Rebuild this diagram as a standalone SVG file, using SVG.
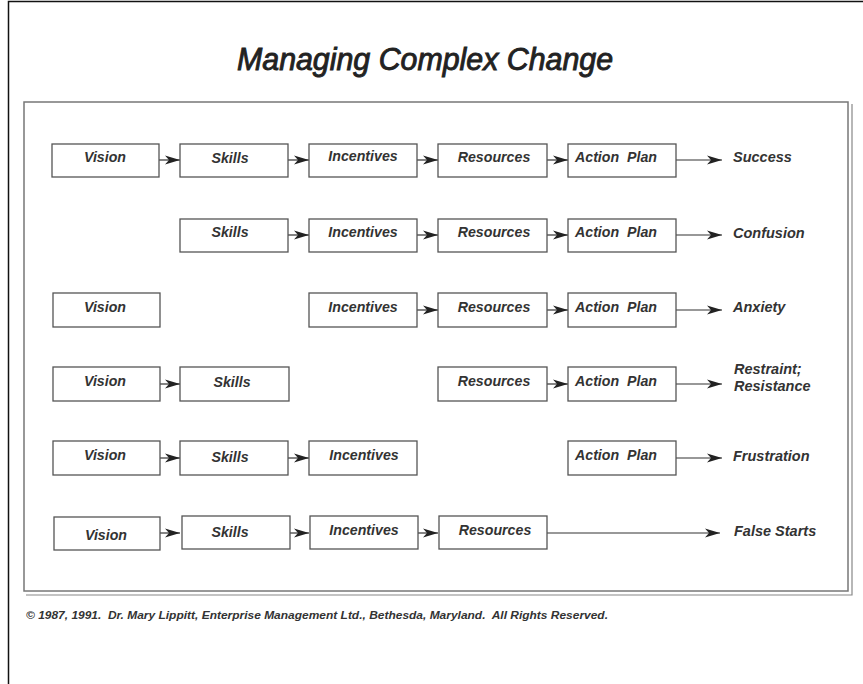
<svg xmlns="http://www.w3.org/2000/svg" width="863" height="684" viewBox="0 0 863 684">
<style>
.box{fill:#fff;stroke:#555;stroke-width:1.3}
.lbl{font-family:"Liberation Sans",Arial,sans-serif;font-style:italic;font-weight:bold;font-size:14.2px;fill:#333;text-anchor:middle}
.out{font-family:"Liberation Sans",Arial,sans-serif;font-style:italic;font-weight:bold;font-size:14.5px;fill:#333}
.con{stroke:#333;stroke-width:1.2;fill:none;marker-end:url(#ah)}
.frame{fill:none;stroke:#777;stroke-width:1.5}
</style>
<defs>
<marker id="ah" markerUnits="userSpaceOnUse" markerWidth="17" markerHeight="11" refX="15" refY="5.5" orient="auto">
<path d="M0,1 L15,5.5 L0,10 L4,5.5 Z" fill="#222"/>
</marker>
</defs>
<rect width="863" height="684" fill="#fff"/>
<path d="M8.5,684 V1.5 H863" fill="none" stroke="#111" stroke-width="1.5"/>
<text x="425" y="70" font-family="'Liberation Sans',Arial,sans-serif" font-style="italic" font-size="31" fill="#222" stroke="#222" stroke-width="0.9" text-anchor="middle" textLength="376" lengthAdjust="spacingAndGlyphs">Managing Complex Change</text>
<g id="frame">
<rect class="frame" x="24" y="102" width="824" height="489"/>
<path d="M26,595 H852 V104" fill="none" stroke="#888" stroke-width="1.2"/>
</g>
<g id="connectors">
<line class="con" x1="159" y1="160" x2="180" y2="160"/>
<line class="con" x1="288" y1="160" x2="309" y2="160"/>
<line class="con" x1="417" y1="160" x2="438" y2="160"/>
<line class="con" x1="547" y1="160" x2="568" y2="160"/>
<line class="con" x1="676" y1="160" x2="722" y2="160"/>
<line class="con" x1="288" y1="235" x2="309" y2="235"/>
<line class="con" x1="417" y1="235" x2="438" y2="235"/>
<line class="con" x1="547" y1="235" x2="568" y2="235"/>
<line class="con" x1="676" y1="235" x2="722" y2="235"/>
<line class="con" x1="417" y1="310" x2="438" y2="310"/>
<line class="con" x1="547" y1="310" x2="568" y2="310"/>
<line class="con" x1="676" y1="310" x2="722" y2="310"/>
<line class="con" x1="159" y1="384" x2="180" y2="384"/>
<line class="con" x1="547" y1="384" x2="568" y2="384"/>
<line class="con" x1="676" y1="384" x2="722" y2="384"/>
<line class="con" x1="159" y1="458" x2="180" y2="458"/>
<line class="con" x1="288" y1="458" x2="309" y2="458"/>
<line class="con" x1="676" y1="458" x2="722" y2="458"/>
<line class="con" x1="159" y1="533" x2="180" y2="533"/>
<line class="con" x1="288" y1="533" x2="309" y2="533"/>
<line class="con" x1="417" y1="533" x2="438" y2="533"/>
<line class="con" x1="547" y1="533" x2="720" y2="533"/>
</g>
<!-- Row 1 -->
<g id="r1-vision"><rect class="box" x="52" y="144" width="107" height="33"/><text class="lbl" x="105" y="162">Vision</text></g>
<g id="r1-skills"><rect class="box" x="180" y="144" width="108" height="33"/><text class="lbl" x="230" y="163">Skills</text></g>
<g id="r1-incentives"><rect class="box" x="309" y="144" width="108" height="33"/><text class="lbl" x="363" y="161">Incentives</text></g>
<g id="r1-resources"><rect class="box" x="438" y="144" width="109" height="33"/><text class="lbl" x="494" y="162">Resources</text></g>
<g id="r1-action"><rect class="box" x="568" y="144" width="108" height="33"/><text class="lbl" x="616" y="162" xml:space="preserve">Action  Plan</text></g>
<g id="r1-out"><text class="out" x="733" y="162">Success</text></g>
<!-- Row 2 -->
<g id="r2-skills"><rect class="box" x="180" y="219" width="108" height="33"/><text class="lbl" x="230" y="237">Skills</text></g>
<g id="r2-incentives"><rect class="box" x="309" y="219" width="108" height="33"/><text class="lbl" x="363" y="237">Incentives</text></g>
<g id="r2-resources"><rect class="box" x="438" y="219" width="109" height="33"/><text class="lbl" x="494" y="237">Resources</text></g>
<g id="r2-action"><rect class="box" x="568" y="219" width="108" height="33"/><text class="lbl" x="616" y="237" xml:space="preserve">Action  Plan</text></g>
<g id="r2-out"><text class="out" x="733" y="238">Confusion</text></g>
<!-- Row 3 -->
<g id="r3-vision"><rect class="box" x="53" y="293" width="107" height="34"/><text class="lbl" x="105" y="312">Vision</text></g>
<g id="r3-incentives"><rect class="box" x="309" y="293" width="108" height="34"/><text class="lbl" x="363" y="312">Incentives</text></g>
<g id="r3-resources"><rect class="box" x="438" y="293" width="109" height="34"/><text class="lbl" x="494" y="312">Resources</text></g>
<g id="r3-action"><rect class="box" x="568" y="293" width="108" height="34"/><text class="lbl" x="616" y="312" xml:space="preserve">Action  Plan</text></g>
<g id="r3-out"><text class="out" x="733" y="312">Anxiety</text></g>
<!-- Row 4 -->
<g id="r4-vision"><rect class="box" x="53" y="367" width="107" height="34"/><text class="lbl" x="105" y="386">Vision</text></g>
<g id="r4-skills"><rect class="box" x="180" y="367" width="109" height="34"/><text class="lbl" x="232" y="387">Skills</text></g>
<g id="r4-resources"><rect class="box" x="438" y="367" width="109" height="34"/><text class="lbl" x="494" y="386">Resources</text></g>
<g id="r4-action"><rect class="box" x="568" y="367" width="108" height="34"/><text class="lbl" x="616" y="386" xml:space="preserve">Action  Plan</text></g>
<g id="r4-out"><text class="out" x="734" y="374">Restraint;</text><text class="out" x="734" y="391">Resistance</text></g>
<!-- Row 5 -->
<g id="r5-vision"><rect class="box" x="53" y="441" width="107" height="34"/><text class="lbl" x="105" y="460">Vision</text></g>
<g id="r5-skills"><rect class="box" x="180" y="441" width="108" height="34"/><text class="lbl" x="230" y="462">Skills</text></g>
<g id="r5-incentives"><rect class="box" x="309" y="441" width="108" height="34"/><text class="lbl" x="364" y="460">Incentives</text></g>
<g id="r5-action"><rect class="box" x="568" y="441" width="108" height="34"/><text class="lbl" x="616" y="460" xml:space="preserve">Action  Plan</text></g>
<g id="r5-out"><text class="out" x="733" y="461">Frustration</text></g>
<!-- Row 6 -->
<g id="r6-vision"><rect class="box" x="54" y="517" width="106" height="33"/><text class="lbl" x="106" y="540">Vision</text></g>
<g id="r6-skills"><rect class="box" x="182" y="516" width="108" height="33"/><text class="lbl" x="230" y="537">Skills</text></g>
<g id="r6-incentives"><rect class="box" x="310" y="516" width="108" height="33"/><text class="lbl" x="364" y="535">Incentives</text></g>
<g id="r6-resources"><rect class="box" x="439" y="516" width="108" height="33"/><text class="lbl" x="495" y="535">Resources</text></g>
<g id="r6-out"><text class="out" x="734" y="536">False Starts</text></g>
<text x="26" y="619" font-family="'Liberation Sans',Arial,sans-serif" font-style="italic" font-weight="bold" font-size="11" fill="#333" xml:space="preserve" textLength="582" lengthAdjust="spacingAndGlyphs">© 1987, 1991.  Dr. Mary Lippitt, Enterprise Management Ltd., Bethesda, Maryland.  All Rights Reserved.</text>
</svg>
